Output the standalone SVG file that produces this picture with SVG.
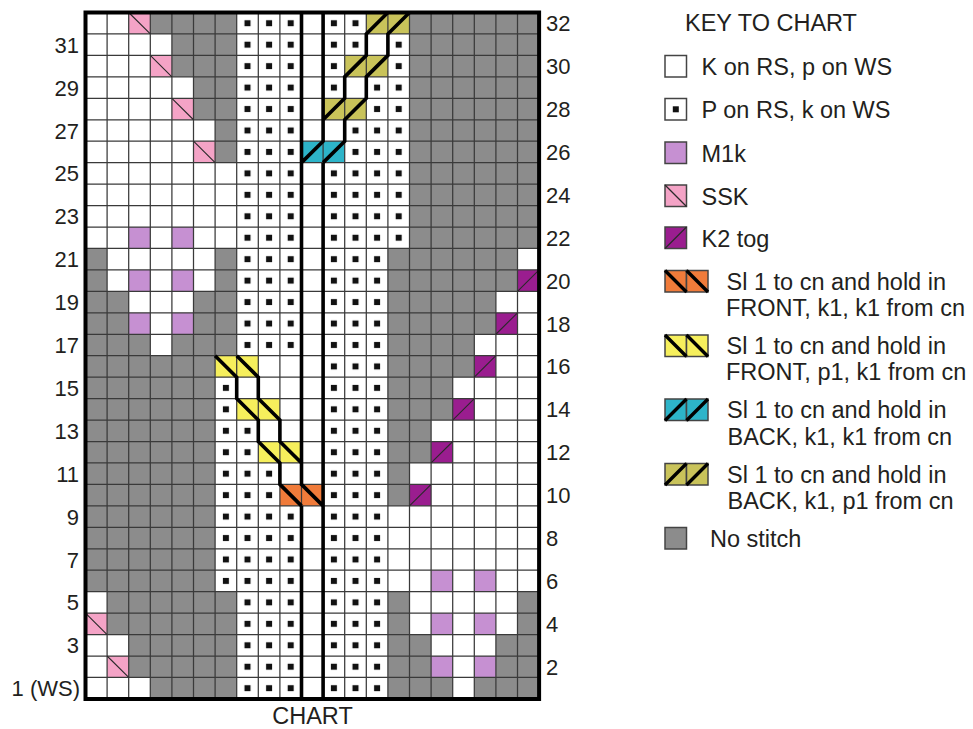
<svg xmlns="http://www.w3.org/2000/svg" width="973" height="729" viewBox="0 0 973 729">
<style>
text{font-family:"Liberation Sans",Arial,sans-serif;fill:#231f20}
.n{font-size:22px}
.k{font-size:23.5px}
.grid{stroke:#3a3a3a;stroke-width:1.25;fill:none}
.thin{stroke:#2a2a2a;stroke-width:1.1;fill:none}
.thick{stroke:#000;stroke-width:3.6;fill:none;stroke-linejoin:miter;stroke-linecap:butt}
.g{fill:#8c8c8c}.p{fill:#f4a3c6}.l{fill:#c690d2}.pu{fill:#9a1d8f}.o{fill:#f07b3a}.y{fill:#f6ef5c}.t{fill:#2db4c9}.v{fill:#c9c35a}
.sw{stroke:#444;stroke-width:1.5}
</style>
<defs>
<pattern id="dot" patternUnits="userSpaceOnUse" width="1" height="1"><rect x="0.36" y="0.36" width="0.28" height="0.28" fill="#111"/></pattern>
</defs>
<rect width="973" height="729" fill="#fff"/>
<g id="chart" transform="translate(85.5 12.5) scale(21.6 21.45)">
<rect width="21" height="32" fill="#fff"/>
<path class="g" d="M3 0h4v1h-4z M4 1h3v2h-3z M5 3h2v2h-2z M6 5h1v2h-1z M15 0h6v11h-6z M0 11h1v2h-1z M6 11h1v2h-1z M14 11h6v2h-6z M0 13h2v2h-2z M5 13h2v2h-2z M14 13h5v2h-5z M0 15h3v1h-3z M4 15h3v1h-3z M14 15h4v2h-4z M0 16h6v11h-6z M14 17h3v2h-3z M14 19h2v2h-2z M14 21h1v2h-1z M1 27h6v2h-6z M14 27h1v2h-1z M20 27h1v2h-1z M2 29h5v2h-5z M14 29h2v2h-2z M19 29h2v2h-2z M3 31h4v1h-4z M14 31h3v1h-3z M18 31h3v1h-3z"/>
<path fill="url(#dot)" d="M7 0h3v16h-3z M6 17h1v10h-1z M7 19h1v13h-1z M8 21h1v11h-1z M9 23h1v9h-1z M11 0h1v4h-1z M11 7h1v25h-1z M12 0h1v2h-1z M12 5h1v27h-1z M13 3h1v29h-1z M14 1h1v10h-1z"/>
<g class="p"><rect x="2" y="0" width="1" height="1"/><rect x="3" y="2" width="1" height="1"/><rect x="4" y="4" width="1" height="1"/><rect x="5" y="6" width="1" height="1"/><rect x="0" y="28" width="1" height="1"/><rect x="1" y="30" width="1" height="1"/></g>
<g class="l"><rect x="2" y="10" width="1" height="1"/><rect x="4" y="10" width="1" height="1"/><rect x="2" y="12" width="1" height="1"/><rect x="4" y="12" width="1" height="1"/><rect x="2" y="14" width="1" height="1"/><rect x="4" y="14" width="1" height="1"/><rect x="16" y="26" width="1" height="1"/><rect x="18" y="26" width="1" height="1"/><rect x="16" y="28" width="1" height="1"/><rect x="18" y="28" width="1" height="1"/><rect x="16" y="30" width="1" height="1"/><rect x="18" y="30" width="1" height="1"/></g>
<g class="pu"><rect x="20" y="12" width="1" height="1"/><rect x="19" y="14" width="1" height="1"/><rect x="18" y="16" width="1" height="1"/><rect x="17" y="18" width="1" height="1"/><rect x="16" y="20" width="1" height="1"/><rect x="15" y="22" width="1" height="1"/></g>
<rect class="o" x="9" y="22" width="2" height="1"/>
<g class="y"><rect x="6" y="16" width="2" height="1"/><rect x="7" y="18" width="2" height="1"/><rect x="8" y="20" width="2" height="1"/></g>
<rect class="t" x="10" y="6" width="2" height="1"/>
<g class="v"><rect x="13" y="0" width="2" height="1"/><rect x="12" y="2" width="2" height="1"/><rect x="11" y="4" width="2" height="1"/></g>
<path class="grid" vector-effect="non-scaling-stroke" d="M1 0V32M2 0V32M3 0V32M4 0V32M5 0V32M6 0V32M7 0V32M8 0V32M9 0V32M10 0V32M11 0V32M12 0V32M13 0V32M14 0V32M15 0V32M16 0V32M17 0V32M18 0V32M19 0V32M20 0V32M0 1H21M0 2H21M0 3H21M0 4H21M0 5H21M0 6H21M0 7H21M0 8H21M0 9H21M0 10H21M0 11H21M0 12H21M0 13H21M0 14H21M0 15H21M0 16H21M0 17H21M0 18H21M0 19H21M0 20H21M0 21H21M0 22H21M0 23H21M0 24H21M0 25H21M0 26H21M0 27H21M0 28H21M0 29H21M0 30H21M0 31H21"/>
<path class="thin" vector-effect="non-scaling-stroke" d="M2 0l1 1M3 2l1 1M4 4l1 1M5 6l1 1M0 28l1 1M1 30l1 1M20 13l1 -1M19 15l1 -1M18 17l1 -1M17 19l1 -1M16 21l1 -1M15 23l1 -1"/>
<path class="thick" vector-effect="non-scaling-stroke" d="M10 0V22M10 23V32M11 0V6M11 7V32M6 16L7 17V18L8 19V20L9 21V22L10 23M7 16L8 17V18L9 19V20L10 21V22L11 23M10 7L11 6V5L12 4V3L13 2V1L14 0M11 7L12 6V5L13 4V3L14 2V1L15 0"/>
<rect width="21" height="32" fill="none" stroke="#000" stroke-width="4" vector-effect="non-scaling-stroke"/>
</g>
<g id="row-labels-left" class="n" text-anchor="end">
<text x="79" y="52.7">31</text><text x="79" y="95.6">29</text><text x="79" y="138.5">27</text><text x="79" y="181.4">25</text><text x="79" y="224.3">23</text><text x="79" y="267.2">21</text><text x="79" y="310.1">19</text><text x="79" y="353">17</text><text x="79" y="395.9">15</text><text x="79" y="438.8">13</text><text x="79" y="481.7">11</text><text x="79" y="524.6">9</text><text x="79" y="567.5">7</text><text x="79" y="610.4">5</text><text x="79" y="653.3">3</text><text x="80" y="696.2">1 (WS)</text>
</g>
<g id="row-labels-right" class="n">
<text x="546" y="31.2">32</text><text x="546" y="74.1">30</text><text x="546" y="117">28</text><text x="546" y="159.9">26</text><text x="546" y="202.8">24</text><text x="546" y="245.7">22</text><text x="546" y="288.6">20</text><text x="546" y="331.5">18</text><text x="546" y="374.4">16</text><text x="546" y="417.3">14</text><text x="546" y="460.2">12</text><text x="546" y="503.1">10</text><text x="546" y="546">8</text><text x="546" y="588.9">6</text><text x="546" y="631.8">4</text><text x="546" y="674.7">2</text>
</g>
<text id="chart-title" class="k" x="312.5" y="724" text-anchor="middle">CHART</text>
<g id="key">
<text class="k" x="685" y="31">KEY TO CHART</text>
<g id="key-k"><rect class="sw" x="665" y="55.5" width="21.5" height="21.5" fill="#fff"/><text class="k" x="701.5" y="75">K on RS, p on WS</text></g>
<g id="key-p"><rect class="sw" x="665" y="98.5" width="21.5" height="21.5" fill="#fff"/><rect x="672.8" y="106.3" width="6" height="6" fill="#111"/><text class="k" x="701.5" y="118">P on RS, k on WS</text></g>
<g id="key-m1k"><rect class="sw l" x="665" y="142" width="21.5" height="21.5"/><text class="k" x="701.5" y="161.5">M1k</text></g>
<g id="key-ssk"><rect class="sw p" x="665" y="185" width="21.5" height="21.5"/><path d="M665 185l21.5 21.5" stroke="#2a2a2a" stroke-width="1.2"/><text class="k" x="701.5" y="204.5">SSK</text></g>
<g id="key-k2tog"><rect class="sw pu" x="665" y="227" width="21.5" height="21.5"/><path d="M665 248.5l21.5 -21.5" stroke="#2a2a2a" stroke-width="1.2"/><text class="k" x="701.5" y="246.5">K2 tog</text></g>
<g id="key-orange"><rect class="sw o" x="665" y="270.5" width="21.5" height="21.5"/><rect class="sw o" x="686.5" y="270.5" width="21.5" height="21.5"/><path d="M665 270.5l21.5 21.5M686.5 270.5l21.5 21.5" stroke="#000" stroke-width="3.4"/><text class="k" x="726.5" y="289.5">Sl 1 to cn and hold in</text><text class="k" x="726" y="316">FRONT, k1, k1 from cn</text></g>
<g id="key-yellow"><rect class="sw y" x="665" y="335" width="21.5" height="21.5"/><rect class="sw y" x="686.5" y="335" width="21.5" height="21.5"/><path d="M665 335l21.5 21.5M686.5 335l21.5 21.5" stroke="#000" stroke-width="3.4"/><text class="k" x="726.5" y="353.5">Sl 1 to cn and hold in</text><text class="k" x="726" y="380">FRONT, p1, k1 from cn</text></g>
<g id="key-teal"><rect class="sw t" x="665" y="399" width="21.5" height="21.5"/><rect class="sw t" x="686.5" y="399" width="21.5" height="21.5"/><path d="M665 420.5l21.5 -21.5M686.5 420.5l21.5 -21.5" stroke="#000" stroke-width="3.4"/><text class="k" x="727" y="418">Sl 1 to cn and hold in</text><text class="k" x="727.5" y="444.5">BACK, k1, k1 from cn</text></g>
<g id="key-olive"><rect class="sw v" x="665" y="463.5" width="21.5" height="21.5"/><rect class="sw v" x="686.5" y="463.5" width="21.5" height="21.5"/><path d="M665 485l21.5 -21.5M686.5 485l21.5 -21.5" stroke="#000" stroke-width="3.4"/><text class="k" x="727" y="483">Sl 1 to cn and hold in</text><text class="k" x="727.5" y="508.5">BACK, k1, p1 from cn</text></g>
<g id="key-none"><rect class="sw g" x="665" y="527.5" width="21.5" height="21.5"/><text class="k" x="710" y="546.5">No stitch</text></g>
</g>
</svg>
